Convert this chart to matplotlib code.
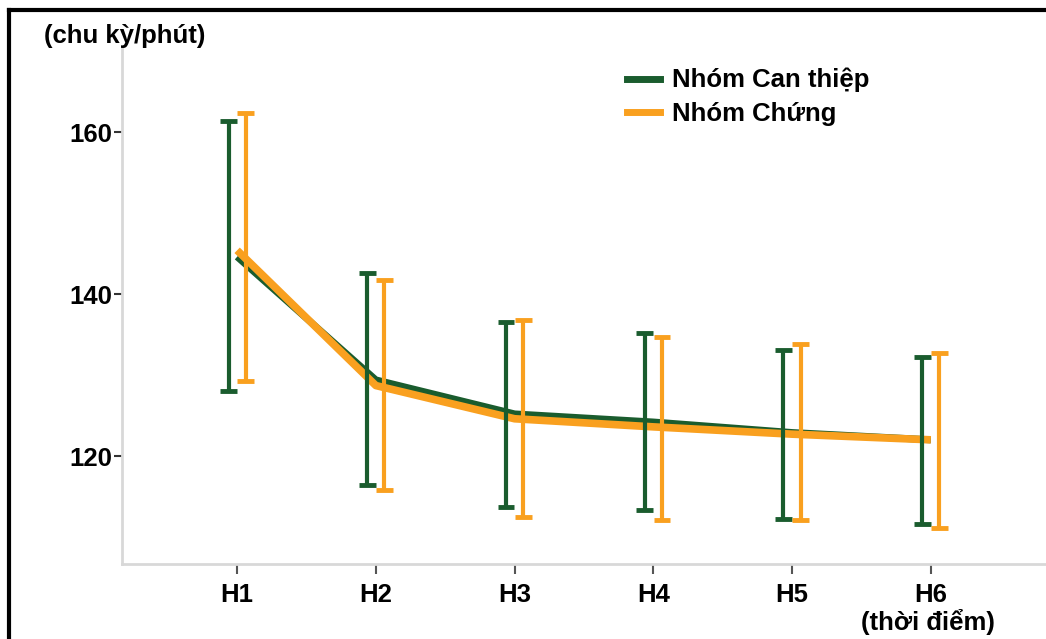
import matplotlib
matplotlib.use("Agg")
import matplotlib.pyplot as plt
from matplotlib.lines import Line2D
import numpy as np

plt.rcParams["font.family"] = ["Liberation Sans", "DejaVu Sans"]
plt.rcParams["font.weight"] = "bold"

# heart rate (cycles/minute) at each time point, mean with error bar limits
timepoints = ["H1", "H2", "H3", "H4", "H5", "H6"]
can_thiep_mean = [144.6, 129.4, 125.2, 124.2, 122.9, 122.0]
can_thiep_low = [128.0, 116.4, 113.7, 113.3, 112.2, 111.6]
can_thiep_high = [161.4, 142.6, 136.5, 135.2, 133.1, 132.2]
chung_mean = [145.4, 128.7, 124.6, 123.6, 122.7, 122.0]
chung_low = [129.3, 115.8, 112.5, 112.1, 112.1, 111.1]
chung_high = [162.3, 141.7, 136.8, 134.7, 133.8, 132.7]

GREEN = "#1a5c2e"
ORANGE = "#f9a01f"
FS = 18.5

fig = plt.figure(figsize=(10.46, 6.39), dpi=100)
ax = fig.add_axes([0.1166, 0.1174, 0.8834, 0.809])

x = np.arange(len(timepoints))
off = 0.062

ax.plot(x, can_thiep_mean, color=GREEN, lw=5, solid_capstyle="butt", zorder=2)
ax.plot(x, chung_mean, color=ORANGE, lw=5.5, solid_capstyle="butt", zorder=3)

for xs, lo, hi, col in [(x - off, can_thiep_low, can_thiep_high, GREEN),
                        (x + off, chung_low, chung_high, ORANGE)]:
    ax.vlines(xs, lo, hi, color=col, lw=3, zorder=4)
    ax.hlines(lo, xs - 0.06, xs + 0.06, color=col, lw=3.5, zorder=4)
    ax.hlines(hi, xs - 0.06, xs + 0.06, color=col, lw=3.5, zorder=4)

ax.set_xlim(-0.83, 5.83)
ax.set_ylim(106.67, 170.5)
ax.set_xticks(x)
ax.set_xticklabels(timepoints)
ax.set_yticks([120, 140, 160])

for side in ["top", "right"]:
    ax.spines[side].set_visible(False)
for side in ["left", "bottom"]:
    ax.spines[side].set_color("#d8d8d8")
    ax.spines[side].set_linewidth(2)

ax.tick_params(axis="y", length=6, width=1.5, color="#333333", pad=1, labelsize=FS)
ax.tick_params(axis="x", length=7, width=1.5, color="#555555", pad=7, labelsize=FS)
for lbl in ax.get_xticklabels() + ax.get_yticklabels():
    lbl.set_fontweight("bold")

fig.text(44 / 1046, 1 - 36 / 639, "(chu kỳ/phút)", fontsize=FS, fontweight="bold",
         ha="left", va="center")
fig.text(928 / 1046, 1 - 622 / 639, "(thời điểm)", fontsize=FS, fontweight="bold",
         ha="center", va="center")

handles = [Line2D([], [], color=GREEN, lw=5), Line2D([], [], color=ORANGE, lw=5)]
leg = fig.legend(handles, ["Nhóm Can thiệp", "Nhóm Chứng"], loc="upper left",
                 bbox_to_anchor=(627 / 1046, 1 - 68 / 639), frameon=False, fontsize=FS,
                 borderpad=0, borderaxespad=0, handlelength=1.3, handletextpad=0.45,
                 labelspacing=0.38)
for t in leg.get_texts():
    t.set_fontweight("bold")

# outer frame along the top and left edges
fig.add_artist(Line2D([9 / 1046, 9 / 1046], [0, 1 - 10 / 639], color="black", lw=3,
                      transform=fig.transFigure))
fig.add_artist(Line2D([9 / 1046, 1], [1 - 10 / 639, 1 - 10 / 639], color="black", lw=3,
                      transform=fig.transFigure))

fig.savefig("out.png", dpi=100)
plt.close(fig)
